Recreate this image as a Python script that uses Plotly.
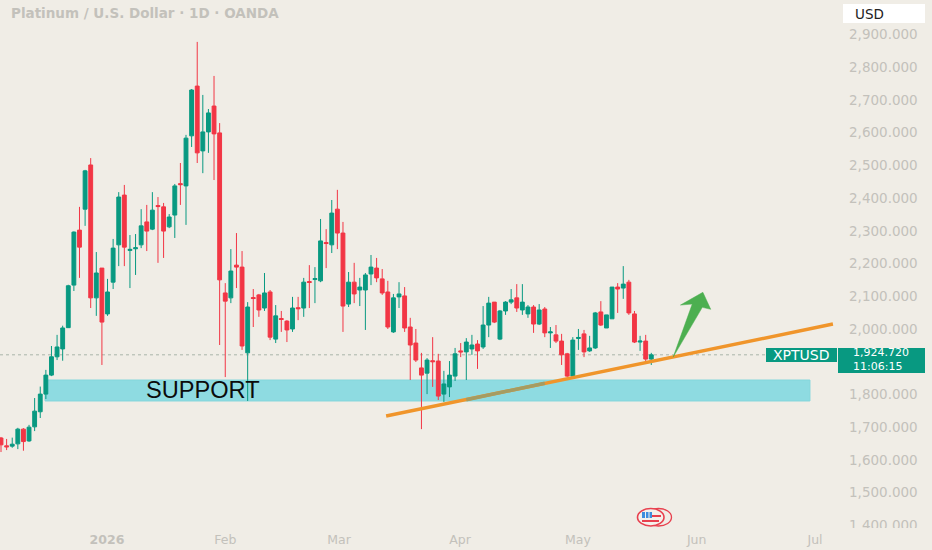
import plotly.graph_objects as go

# Candles, oldest first: open, high, low, close (USD)
opens = [1667,1643,1642,1649,1694,1658,1701,1747,1801,1859,1915,1939,2004,2134,2302,2366,2501,2095,2186,2046,
2143,2257,2409,2240,2245,2257,2327,2305,2377,2373,2312,2348,2444,2437,2590,2742,2544,2602,2681,2599,
2110,2095,2195,2189,1927,2096,2104,2064,2113,1969,2032,2024,2000,2065,2064,2145,2151,2147,2264,2257,
2366,2293,2076,2143,2119,2119,2168,2186,2153,2113,1991,2098,2101,2006,1957,1881,1865,1903,1902,1801,
1823,1856,1933,1930,1939,1954,1945,2012,2082,1969,2055,2082,2095,2058,2046,2067,2015,2061,1988,1982,
1963,1924,1856,1971,1985,1933,1942,2052,2003,2031,2128,2125,2143,2046,1960,1963,1908]
highs = [1670,1664,1668,1698,1697,1707,1789,1824,1875,1948,1982,2010,2135,2298,2373,2486,2522,2235,2186,2153,
2275,2418,2440,2287,2290,2366,2379,2418,2403,2385,2351,2443,2507,2593,2733,2877,2715,2672,2773,2629,
2140,2244,2293,2238,2082,2122,2107,2171,2119,2073,2055,2027,2098,2098,2156,2195,2189,2336,2305,2394,
2425,2327,2174,2202,2156,2171,2226,2217,2183,2147,2107,2143,2128,2034,2000,1927,1911,1975,1924,1872,
1902,1942,1957,1972,1982,1966,2070,2098,2082,2058,2085,2122,2137,2137,2073,2073,2076,2067,2006,2012,
1985,1927,1975,2000,1997,1979,2052,2085,2043,2128,2140,2192,2150,2055,1979,1982,1927]
lows = [1624,1630,1637,1633,1628,1655,1688,1728,1786,1856,1905,1903,2003,2116,2156,2315,2064,2040,1890,2040,
2122,2192,2192,2125,2165,2247,2238,2302,2202,2217,2308,2278,2379,2318,2556,2507,2476,2538,2455,1951,
1853,2079,2125,1936,1780,2006,2037,2055,1966,1957,1991,1960,1991,2027,2037,2064,2079,2143,2186,2232,
2244,1991,2067,2079,2070,1997,2134,2143,2104,2000,1988,2064,1991,1844,1899,1694,1801,1823,1783,1777,
1792,1841,1914,1844,1921,1878,1939,1975,2018,1966,2043,2076,2052,2043,2034,1988,2012,1975,1942,1957,
1890,1853,1854,1936,1914,1930,1939,2009,2003,2031,2049,2092,2043,1957,1933,1902,1890]
closes = [1646,1640,1648,1694,1656,1700,1749,1801,1859,1915,1945,2003,2132,2296,2250,2483,2095,2171,2021,2113,
2247,2403,2250,2243,2248,2315,2299,2363,2374,2299,2342,2437,2441,2583,2730,2538,2602,2660,2596,2150,
2085,2177,2189,1948,2067,2093,2058,2110,1975,2040,2029,1997,2064,2062,2143,2142,2154,2269,2261,2354,
2293,2070,2143,2107,2128,2165,2189,2156,2110,2006,2095,2107,2003,1951,1905,1859,1905,1900,1795,1832,
1859,1924,1930,1960,1951,1933,2012,2079,2021,2055,2082,2089,2064,2082,2067,2015,2058,1988,1991,1963,
1921,1856,1966,1974,1930,1942,2049,2012,2043,2128,2122,2137,2049,1960,1963,1908,1921]
candle_index = list(range(1, len(opens) + 1))

# Axes
price_ticks = [2900,2800,2700,2600,2500,2400,2300,2200,2100,2000,1800,1700,1600,1500,1400]
price_labels = ["2,900.000","2,800.000","2,700.000","2,600.000","2,500.000","2,400.000","2,300.000","2,200.000",
                "2,100.000","2,000.000","1,800.000","1,700.000","1,600.000","1,500.000","1,400.000"]
time_ticks = [19.9, 41, 61.3, 82.9, 103.9, 125.1, 146.2]
time_labels = ["<b>2026</b>", "Feb", "Mar", "Apr", "May", "Jun", "Jul"]

# Drawings on the chart, in candle index / price units
support_index = [8.85, 145.3]
support_price = [1780, 1844]
trend_index = [69.7, 149.4]
trend_price = [1734, 2015]
trend_dim_index = [84, 98]
trend_dim_price = [1784, 1834]
arrow_index = [120.9, 124.3, 122.2, 126.2, 127.6, 126.1]
arrow_price = [1914, 2076, 2073, 2112, 2060, 2066]

BG = "#F0EDE6"
GREEN = "#089981"
RED = "#F23645"
GREY = "#C3C1BB"
W, H = 835.0, 527.0


def px(x0, y0, x1, y1):
    return dict(xref="paper", yref="paper", x0=x0 / W, x1=x1 / W, y0=1 - y0 / H, y1=1 - y1 / H)


fig = go.Figure(go.Candlestick(
    x=candle_index, open=opens, high=highs, low=lows, close=closes,
    increasing=dict(line=dict(color=GREEN, width=1), fillcolor=GREEN),
    decreasing=dict(line=dict(color=RED, width=1), fillcolor=RED),
    whiskerwidth=0, hoverinfo="skip", showlegend=False,
))

shapes = [
    # support zone
    dict(type="rect", xref="x", yref="y", x0=support_index[0], x1=support_index[1],
         y0=support_price[0], y1=support_price[1], fillcolor="#8EDBE1",
         line=dict(color="#83D6DC", width=1), layer="below"),
    # last price line
    dict(type="line", xref="x", yref="y", x0=0.82, x1=149.7, y0=closes[-1], y1=closes[-1],
         line=dict(color="#A9B5A9", width=1, dash="dot"), layer="below"),
    # trend line
    dict(type="line", xref="x", yref="y", x0=trend_index[0], x1=trend_index[1],
         y0=trend_price[0], y1=trend_price[1], line=dict(color="#F0952B", width=3.5)),
    dict(type="line", xref="x", yref="y", x0=trend_dim_index[0], x1=trend_dim_index[1],
         y0=trend_dim_price[0], y1=trend_dim_price[1], line=dict(color="#A59C62", width=3.5)),
    # arrow
    dict(type="path", xref="x", yref="y",
         path="M " + " L ".join(f"{a},{b}" for a, b in zip(arrow_index, arrow_price)) + " Z",
         fillcolor="#4CAF50", line=dict(color="#4CAF50", width=0.5)),
    # clip lower price label
    dict(type="rect", xref="paper", yref="paper", x0=0.999, x1=1.12, y0=-0.03, y1=-0.002,
         fillcolor=BG, line=dict(width=0)),
    # USD button
    dict(type="rect", **px(843, 4, 925, 23), fillcolor="#FFFFFF", line=dict(width=0)),
    # symbol and price labels
    dict(type="rect", **px(766, 348, 837, 362), fillcolor=GREEN, line=dict(width=0)),
    dict(type="rect", **px(838, 348, 925, 373), fillcolor=GREEN, line=dict(width=0)),
    # logo
    dict(type="circle", **px(645.5, 508.5, 671.5, 526), fillcolor=BG, line=dict(color="#E8404E", width=1.3)),
    dict(type="circle", **px(637.5, 508.5, 664, 526), fillcolor="#F4F1EC", line=dict(color="#E8404E", width=1.6)),
    dict(type="rect", **px(642, 512, 652, 518), fillcolor="#3E8EDE", line=dict(width=0)),
    dict(type="rect", **px(645, 512, 646, 518), fillcolor="#F4F1EC", line=dict(width=0)),
    dict(type="rect", **px(648.5, 512, 649.5, 518), fillcolor="#F4F1EC", line=dict(width=0)),
    dict(type="rect", **px(652, 515, 661, 517), fillcolor="#E8404E", line=dict(width=0)),
    dict(type="rect", **px(642, 520, 659, 522), fillcolor="#E8404E", line=dict(width=0)),
]


def note(text, x, y, size, color, family="DejaVu Sans", anchor="left"):
    return dict(text=text, xref="paper", yref="paper", x=x / W, y=1 - y / H, xanchor=anchor, yanchor="middle",
                showarrow=False, font=dict(family=family, size=size, color=color))


annotations = [
    note("<b>Platinum / U.S. Dollar · 1D · OANDA</b>", 9, 13, 13.5, "#C3C1BB"),
    note("USD", 853, 13.5, 13.5, "#222222"),
    note("SUPPORT", 144, 389.5, 23.6, "#0B0B0B", family="Liberation Sans"),
    note("XPTUSD", 801.5, 355, 14, "#FFFFFF", anchor="center"),
    note("1,924.720", 851, 352, 11, "#FFFFFF"),
    note("11:06:15", 851, 366.5, 11, "#FFFFFF"),
]

fig.update_layout(
    width=932, height=550,
    margin=dict(l=0, r=97, t=0, b=23),
    paper_bgcolor=BG, plot_bgcolor=BG,
    boxgap=0.02,
    shapes=shapes, annotations=annotations, showlegend=False,
    font=dict(family="DejaVu Sans", color=GREY),
    xaxis=dict(range=[0.82, 149.77], tickmode="array", tickvals=time_ticks, ticktext=time_labels,
               showgrid=False, zeroline=False, showline=False, ticks="", rangeslider=dict(visible=False),
               ticklabelstandoff=3,
               tickfont=dict(family="DejaVu Sans", size=12.5, color=GREY), fixedrange=True),
    yaxis=dict(range=[1395, 3005], side="right", tickmode="array", tickvals=price_ticks, ticktext=price_labels,
               showgrid=False, zeroline=False, showline=False, ticks="", ticklabelstandoff=13,
               tickfont=dict(family="DejaVu Sans", size=13.5, color=GREY), fixedrange=True),
)

fig.write_html("out.html", config=dict(displayModeBar=False),
               post_script=f"document.body.style.margin='0';document.body.style.background='{BG}';")
